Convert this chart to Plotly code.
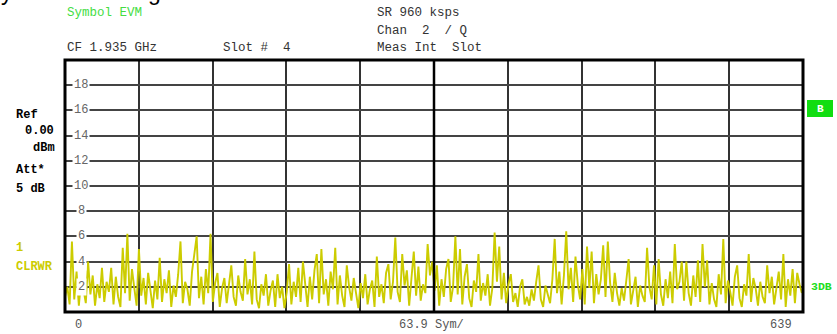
import plotly.graph_objects as go

# trace samples (every 2nd symbol), EVM in %
symbols = list(range(0, 640, 2))
evm = [
    1.2, 2.0, 0.6, 5.6, 1.0, 3.2, 0.5, 2.6, 1.8, 0.7, 4.0, 1.4, 2.9, 0.5, 2.2, 1.1, 3.5, 0.8, 2.4, 1.6,
    3.5, 0.6, 2.8, 1.2, 0.4, 5.1, 1.5, 6.2, 0.9, 3.4, 1.9, 0.5, 5.0, 1.3, 2.7, 0.6, 3.1, 1.7, 0.3, 2.5,
    1.0, 4.3, 0.8, 2.6, 1.5, 3.3, 0.4, 2.1, 1.2, 3.0, 5.6, 0.7, 2.4, 1.8, 0.5, 3.2, 4.6, 6.0, 1.1, 2.8,
    0.6, 3.4, 1.5, 6.2, 0.8, 2.3, 3.1, 0.4, 1.9, 2.7, 0.7, 2.0, 3.7, 1.2, 0.5, 2.9, 1.6, 0.9, 4.2, 1.4,
    2.6, 0.6, 4.8, 1.0, 0.3, 2.2, 1.3, 3.0, 0.5, 1.7, 2.5, 0.4, 3.0, 1.1, 2.0, 0.3, 1.6, 3.8, 0.6, 2.4,
    1.2, 3.5, 0.8, 4.0, 1.9, 0.4, 2.8, 1.0, 3.3, 4.6, 0.7, 5.0, 1.4, 2.6, 0.5, 3.2, 1.8, 5.1, 0.6, 2.9,
    1.3, 0.4, 3.7, 2.0, 0.9, 2.7, 1.5, 0.3, 2.3, 1.1, 3.0, 0.6, 1.8, 2.5, 0.4, 4.4, 1.2, 2.2, 0.7, 3.1,
    3.8, 1.0, 2.4, 5.9, 1.6, 0.8, 4.6, 2.1, 3.3, 0.5, 2.7, 4.8, 1.3, 3.6, 0.9, 2.2, 1.5, 5.4, 2.9, 4.0,
    1.7, 3.7, 0.5, 2.6, 1.2, 3.4, 4.2, 0.8, 2.0, 6.0, 1.4, 5.0, 0.6, 2.8, 3.8, 1.1, 0.4, 2.5, 1.6, 4.6,
    0.9, 2.3, 1.3, 3.0, 0.5, 1.9, 6.3, 2.4, 5.2, 1.0, 3.1, 0.7, 2.2, 3.0, 0.8, 1.5, 0.4, 2.0, 2.6, 0.6,
    1.2, 0.5, 1.8, 0.9, 2.4, 3.7, 1.0, 0.4, 2.1, 1.3, 0.7, 2.6, 5.8, 1.5, 3.2, 0.6, 2.9, 6.4, 1.8, 3.5,
    0.8, 4.4, 2.2, 1.0, 3.4, 0.6, 5.2, 1.9, 4.8, 0.7, 3.0, 1.4, 2.6, 5.3, 1.2, 5.6, 2.3, 0.8, 3.1, 1.5,
    0.5, 1.9, 0.9, 2.5, 4.2, 0.6, 1.7, 2.8, 0.4, 2.1, 1.3, 0.8, 5.1, 2.0, 1.0, 3.7, 0.6, 4.2, 1.4, 0.5,
    2.6, 1.1, 3.2, 0.7, 5.4, 1.8, 2.4, 4.0, 0.9, 4.0, 1.5, 0.5, 2.9, 1.2, 4.1, 0.8, 5.4, 2.0, 4.1, 0.6,
    2.3, 1.0, 0.4, 3.0, 1.4, 5.8, 0.7, 2.5, 1.6, 0.5, 2.8, 3.7, 1.1, 0.4, 2.2, 1.3, 4.6, 0.8, 2.7, 1.9,
    0.5, 2.4, 1.2, 0.7, 3.7, 1.5, 2.8, 0.6, 1.9, 3.2, 1.0, 4.6, 0.4, 2.6, 1.3, 3.4, 0.7, 3.1, 2.2, 1.5,
]
y_ticks = [2, 4, 6, 8, 10, 12, 14, 16, 18]
x_labels = ["0", "63.9 Sym/", "639"]

W, H = 837, 334
L, R, T, B = 65, 803, 60, 312   # frame in screen pixels
MONO = "Liberation Mono"


def px(x, y):
    return (x - L) / (R - L), (B - y) / (B - T)


fig = go.Figure()
fig.add_trace(go.Scatter(x=symbols, y=evm, mode="lines",
                         line=dict(color="#cccc00", width=1.9), showlegend=False))

fig.update_layout(
    width=W, height=H,
    margin=dict(l=L, r=W - R, t=T, b=H - B, pad=0),
    paper_bgcolor="white", plot_bgcolor="white",
    xaxis=dict(range=[0, 639], tick0=0, dtick=63.9, showgrid=True, gridcolor="#333",
               gridwidth=1.5, showticklabels=False, zeroline=False, ticks=""),
    yaxis=dict(range=[0, 20], tick0=0, dtick=2, showgrid=True, gridcolor="#444",
               gridwidth=1.6, showticklabels=False, zeroline=False, ticks=""),
)

# frame and centre line
fig.add_shape(type="rect", xref="paper", yref="paper", x0=0, x1=1, y0=0, y1=1,
              line=dict(color="black", width=3))
fig.add_shape(type="line", xref="x", yref="paper", x0=319.5, x1=319.5, y0=0, y1=1,
              line=dict(color="black", width=2.5))

ann = []


def text(x, y, s, color="#333", size=12, bold=False, xanchor="left", font=MONO):
    xp, yp = px(x, y)
    ann.append(dict(xref="paper", yref="paper", x=xp, y=yp, text=f"<b>{s}</b>" if bold else s,
                    showarrow=False, xanchor=xanchor, yanchor="middle",
                    font=dict(family=font, size=size, color=color), borderpad=0))


# y tick labels inside the frame
for v in y_ticks:
    ann.append(dict(xref="paper", yref="y", x=px(81, 0)[0], y=v, text=str(v), showarrow=False,
                    xanchor="center", yanchor="middle", bgcolor="white", borderpad=1,
                    font=dict(family=MONO, size=12, color="#666")))

# header (the big page title above is cropped, only its descenders show)
text(0, -8, "y Demodulating", color="black", size=23, font="Liberation Sans")
text(66, 13, "Symbol EVM", color="#44dd44", size=12.5)
text(376, 13, "SR 960 ksps", size=12.5)
text(376, 31, "Chan  2  / Q", size=12.5)
text(66, 48, "CF 1.935 GHz", size=12.5)
text(222, 48, "Slot #  4", size=12.5)
text(376, 48, "Meas Int  Slot", size=12.5)

# left side
text(15, 115, "Ref", color="black", bold=True)
text(24, 131, "0.00", color="black", bold=True)
text(32, 148, "dBm", color="black", bold=True)
text(15, 170, "Att*", color="black", bold=True)
text(15, 189, "5 dB", color="black", bold=True)
text(15, 248, "1", color="#cccc00", bold=True)
text(15, 267, "CLRWR", color="#cccc00", bold=True)

# right side
text(810, 286, "3DB", color="#22dd22", bold=True, size=11.5)
x0, y0 = px(807, 100)
x1, y1 = px(833, 117)
fig.add_shape(type="rect", xref="paper", yref="paper", x0=x0, x1=x1, y0=y1, y1=y0,
              fillcolor="#11dd11", line=dict(width=0))
text(820, 108.5, "B", color="white", bold=True, xanchor="center", size=11)

# bottom labels
text(78, 325, x_labels[0], color="#555", xanchor="center")
text(398, 325, x_labels[1], color="#555")
text(781, 325, x_labels[2], color="#555", xanchor="center")

fig.update_layout(annotations=ann)
# drop the default page margin so the figure sits at the window's corner
fig.write_html("out.html", config={"displayModeBar": False},
               post_script="document.body.style.margin='0';"
                           "document.body.style.overflow='hidden';")
